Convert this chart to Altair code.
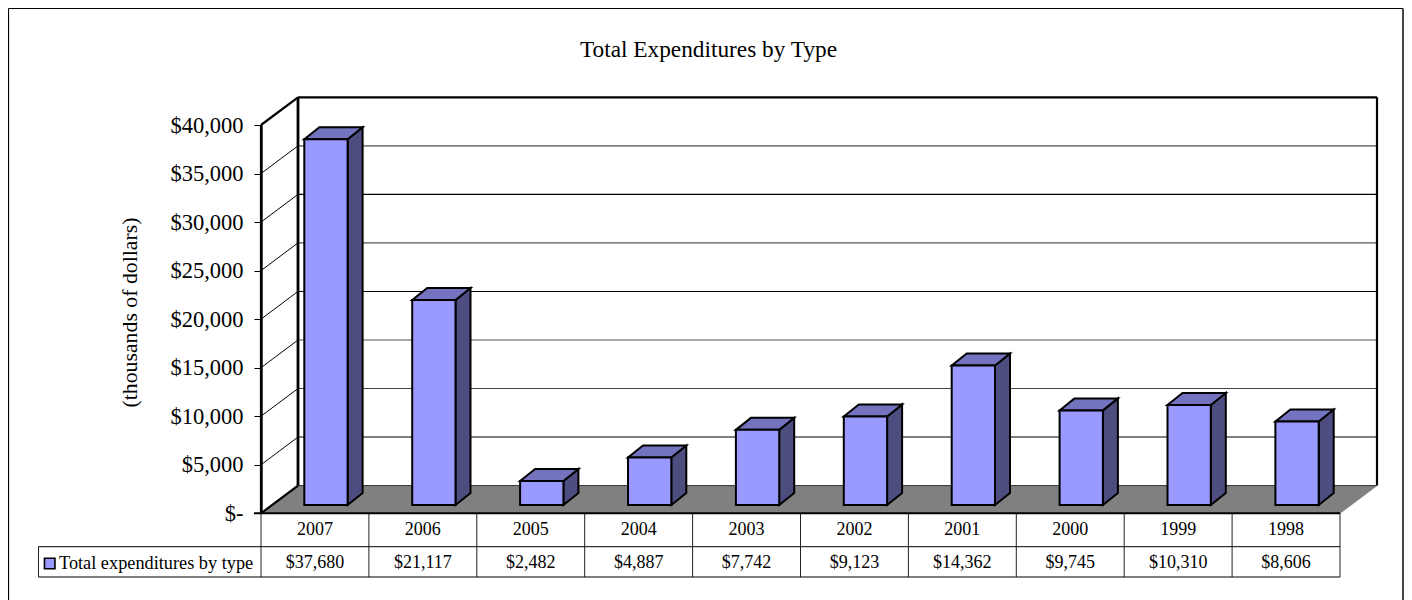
import altair as alt
import pandas as pd

years = ["2007", "2006", "2005", "2004", "2003", "2002", "2001", "2000", "1999", "1998"]
values = [37680, 21117, 2482, 4887, 7742, 9123, 14362, 9745, 10310, 8606]
value_labels = ["$37,680", "$21,117", "$2,482", "$4,887", "$7,742", "$9,123", "$14,362", "$9,745", "$10,310", "$8,606"]
grid_values = [5000, 10000, 15000, 20000, 25000, 30000, 35000]
grid_colors = ["#000000", "#444444", "#555555", "#000000", "#555555", "#000000", "#808080"]
grid_widths = [1.1, 1.1, 1.1, 1.1, 1.1, 1.1, 1.8]
axis_ticks = [0, 5000, 10000, 15000, 20000, 25000, 30000, 35000, 40000]

TITLE = "Total Expenditures by Type"
Y_TITLE = "(thousands of dollars)"
SERIES = "Total expenditures by type"
FONT = "Liberation Serif"

# plot geometry
W, H = 1079, 388.3
PX_X = W / 10
PX_Y = H / 40000
LEFT, TOP = 253, 117
X0, Y0 = 261, 513.3


def ux(px):
    return (px - X0) / PX_X


def uy(py):
    return (Y0 - py) / PX_Y


BACK_X = 37 / PX_X
BACK_Y = 27.7 / PX_Y
BAR_W = 43.3 / PX_X
BAR_DX = 15 / PX_X
BAR_DY = 12 / PX_Y
FRONT_X = 11 / PX_X
FRONT_Y = 8.3 / PX_Y

xs = alt.Scale(domain=[0, 10], nice=False, zero=False)
ys = alt.Scale(domain=[0, 40000], nice=False, zero=False)
y_axis = alt.Axis(
    values=axis_ticks, grid=False, zindex=1, domainColor="#000000", domainWidth=2.4,
    tickColor="#000000", tickSize=7, tickWidth=1, labelFont=FONT, labelFontSize=22.5,
    labelColor="#000000", labelPadding=11, titleFont=FONT, titleFontSize=21.8,
    titleFontWeight="normal", titleColor="#000000", titleX=-120, titleY=187,
    labelExpr="datum.value == 0 ? '$-' : '$' + format(datum.value, ',')")


def X(f="x", **k):
    return alt.X(f"{f}:Q", scale=xs, axis=None, **k)


def Y(f="y", **k):
    return alt.Y(f"{f}:Q", scale=ys, axis=y_axis, title=Y_TITLE, **k)


# floor
floor = pd.DataFrame({"y": [0, BACK_Y], "x": [0, BACK_X], "x2": [10, 10 + BACK_X]})
floor_l = alt.Chart(floor).mark_area(orient="horizontal", color="#808080").encode(
    y=Y(stack=None), x=X(), x2="x2:Q")

# gridlines on the back wall and on the side wall
grid = pd.DataFrame({"v": grid_values, "c": grid_colors, "w": grid_widths})
grid["y"] = grid.v + BACK_Y
grid["x"] = BACK_X
grid["x2"] = 10 + BACK_X
grid_back = alt.Chart(grid).mark_rule().encode(
    x=X(), x2="x2:Q", y=Y(),
    color=alt.Color("c:N", scale=None, legend=None),
    strokeWidth=alt.StrokeWidth("w:Q", scale=None, legend=None))
side = pd.DataFrame({"v": grid_values})
side["y2"] = side.v + BACK_Y
side["x"] = 0
side["x2"] = BACK_X
grid_side = alt.Chart(side).mark_rule(color="#000000", strokeWidth=1).encode(
    x=X(), x2="x2:Q", y=Y("v"), y2="y2:Q")

# heavy wall edges
edges = pd.DataFrame({
    "x": [0, 0, 0, BACK_X, BACK_X, 10 + BACK_X, 10],
    "x2": [BACK_X, BACK_X, 0, BACK_X, 10 + BACK_X, 10 + BACK_X, 10 + BACK_X],
    "y": [40000, 0, 0, BACK_Y, 40000 + BACK_Y, BACK_Y, 0],
    "y2": [40000 + BACK_Y, BACK_Y, 40000, 40000 + BACK_Y, 40000 + BACK_Y, 40000 + BACK_Y, BACK_Y],
    "w": [2.2, 2.2, 2.2, 2.8, 2.2, 2.2, 0.8],
    "c": ["#000000"] * 6 + ["#777777"],
})
edges_l = alt.Chart(edges).mark_rule().encode(
    x=X(), x2="x2:Q", y=Y(), y2="y2:Q",
    color=alt.Color("c:N", scale=None, legend=None),
    strokeWidth=alt.StrokeWidth("w:Q", scale=None, legend=None))
floor_back = alt.Chart(pd.DataFrame({"x": [BACK_X], "x2": [10 + BACK_X], "y": [BACK_Y]})).mark_rule(
    color="#333333", strokeWidth=1).encode(x=X(), x2="x2:Q", y=Y())

# bars
rows_front, rows_side, rows_top = [], [], []
for i, v in enumerate(values):
    x0 = i + 0.5 - BAR_W / 2 + FRONT_X
    x1 = x0 + BAR_W
    b = FRONT_Y
    t = FRONT_Y + v
    rows_front.append({"x": x0, "x2": x1, "y": b, "y2": t})
    rows_side.append({"g": i, "x": x1, "y": b, "y2": t})
    rows_side.append({"g": i, "x": x1 + BAR_DX, "y": b + BAR_DY, "y2": t + BAR_DY})
    rows_top.append({"g": i, "y": t, "x": x0, "x2": x1})
    rows_top.append({"g": i, "y": t + BAR_DY, "x": x0 + BAR_DX, "x2": x1 + BAR_DX})

bar_side = alt.Chart(pd.DataFrame(rows_side)).mark_area(
    color="#4D4D80", stroke="#000000", strokeWidth=2, strokeJoin="miter").encode(
    x=X(), y=Y(stack=None), y2="y2:Q", detail="g:N")
bar_top = alt.Chart(pd.DataFrame(rows_top)).mark_area(
    orient="horizontal", color="#7373BF", stroke="#000000", strokeWidth=2, strokeJoin="miter").encode(
    y=Y(stack=None), x=X(), x2="x2:Q", detail="g:N")
bar_front = alt.Chart(pd.DataFrame(rows_front)).mark_rect(
    color="#9999FF", stroke="#000000", strokeWidth=2).encode(
    x=X(), x2="x2:Q", y=Y(), y2="y2:Q")

# data table
ROW0, ROW1, ROW2 = uy(513.3), uy(546.7), uy(577)
TLEFT = ux(38.5)
vlines = pd.DataFrame({"x": list(range(11)), "y": ROW0, "y2": ROW2})
vlines_l = alt.Chart(vlines).mark_rule(color="#222222", strokeWidth=1).encode(x=X(), y=Y(), y2="y2:Q")
hlines = pd.DataFrame({"x": [TLEFT, TLEFT, -7 / PX_X], "x2": [10, 10, 10], "y": [ROW1, ROW2, ROW0], "w": [1, 1, 2]})
hlines_l = alt.Chart(hlines).mark_rule(color="#000000").encode(
    x=X(), x2="x2:Q", y=Y(), strokeWidth=alt.StrokeWidth("w:Q", scale=None, legend=None))
left_line = alt.Chart(pd.DataFrame({"x": [TLEFT], "y": [ROW1], "y2": [ROW2]})).mark_rule(
    color="#222222", strokeWidth=1).encode(x=X(), y=Y(), y2="y2:Q")

cells = pd.DataFrame({"x": [i + 0.5 for i in range(10)], "year": years, "val": value_labels,
                      "y1": uy(530), "y2": uy(563)})
text_common = dict(font=FONT, color="#000000", baseline="middle")
year_text = alt.Chart(cells).mark_text(fontSize=18, **text_common).encode(x=X(), y=Y("y1"), text="year:N")
val_text = alt.Chart(cells).mark_text(fontSize=18, **text_common).encode(x=X(), y=Y("y2"), text="val:N")

legend_df = pd.DataFrame({"x": [ux(49.7)], "tx": [ux(59)], "y": [uy(563.5)], "s": [SERIES]})
legend_key = alt.Chart(legend_df).mark_point(
    shape="square", size=110, filled=True, fill="#9999FF", stroke="#000000", strokeWidth=1.6, opacity=1).encode(
    x=X(), y=Y())
legend_text = alt.Chart(legend_df).mark_text(align="left", fontSize=18.3, **text_common).encode(
    x=X("tx"), y=Y(), text="s:N")

# outer frame (left, top, right lines)
F_L, F_T, F_R, F_B = -252.5, -116.5, 1142, 475
frame_left = alt.Chart(pd.DataFrame({"a": [0]})).mark_rule(color="#000000", strokeWidth=1.2).encode(
    x=alt.value(F_L), y=alt.value(F_T), y2=alt.value(F_B))
frame_top = alt.Chart(pd.DataFrame({"a": [0]})).mark_rule(color="#000000", strokeWidth=1.2).encode(
    x=alt.value(F_L), x2=alt.value(F_R), y=alt.value(F_T))
frame_right = alt.Chart(pd.DataFrame({"a": [0]})).mark_rule(color="#333333", strokeWidth=1.8).encode(
    x=alt.value(F_R), y=alt.value(F_T), y2=alt.value(F_B))

chart = alt.layer(
    floor_l, grid_back, grid_side, floor_back, edges_l,
    bar_side, bar_top, bar_front,
    vlines_l, left_line, hlines_l, year_text, val_text, legend_key, legend_text,
    frame_left, frame_top, frame_right,
).properties(
    width=W, height=H,
    autosize=alt.AutoSizeParams(type="none"),
    padding={"left": LEFT, "top": TOP, "right": 64, "bottom": 592 - TOP - H},
    title=alt.TitleParams(TITLE, font=FONT, fontSize=23.3, fontWeight="normal", color="#000000",
                          anchor="middle", frame="group", dx=-92, offset=-55),
).configure_view(stroke=None)

chart.save("out.html", embed_options={"renderer": "svg", "actions": False})
